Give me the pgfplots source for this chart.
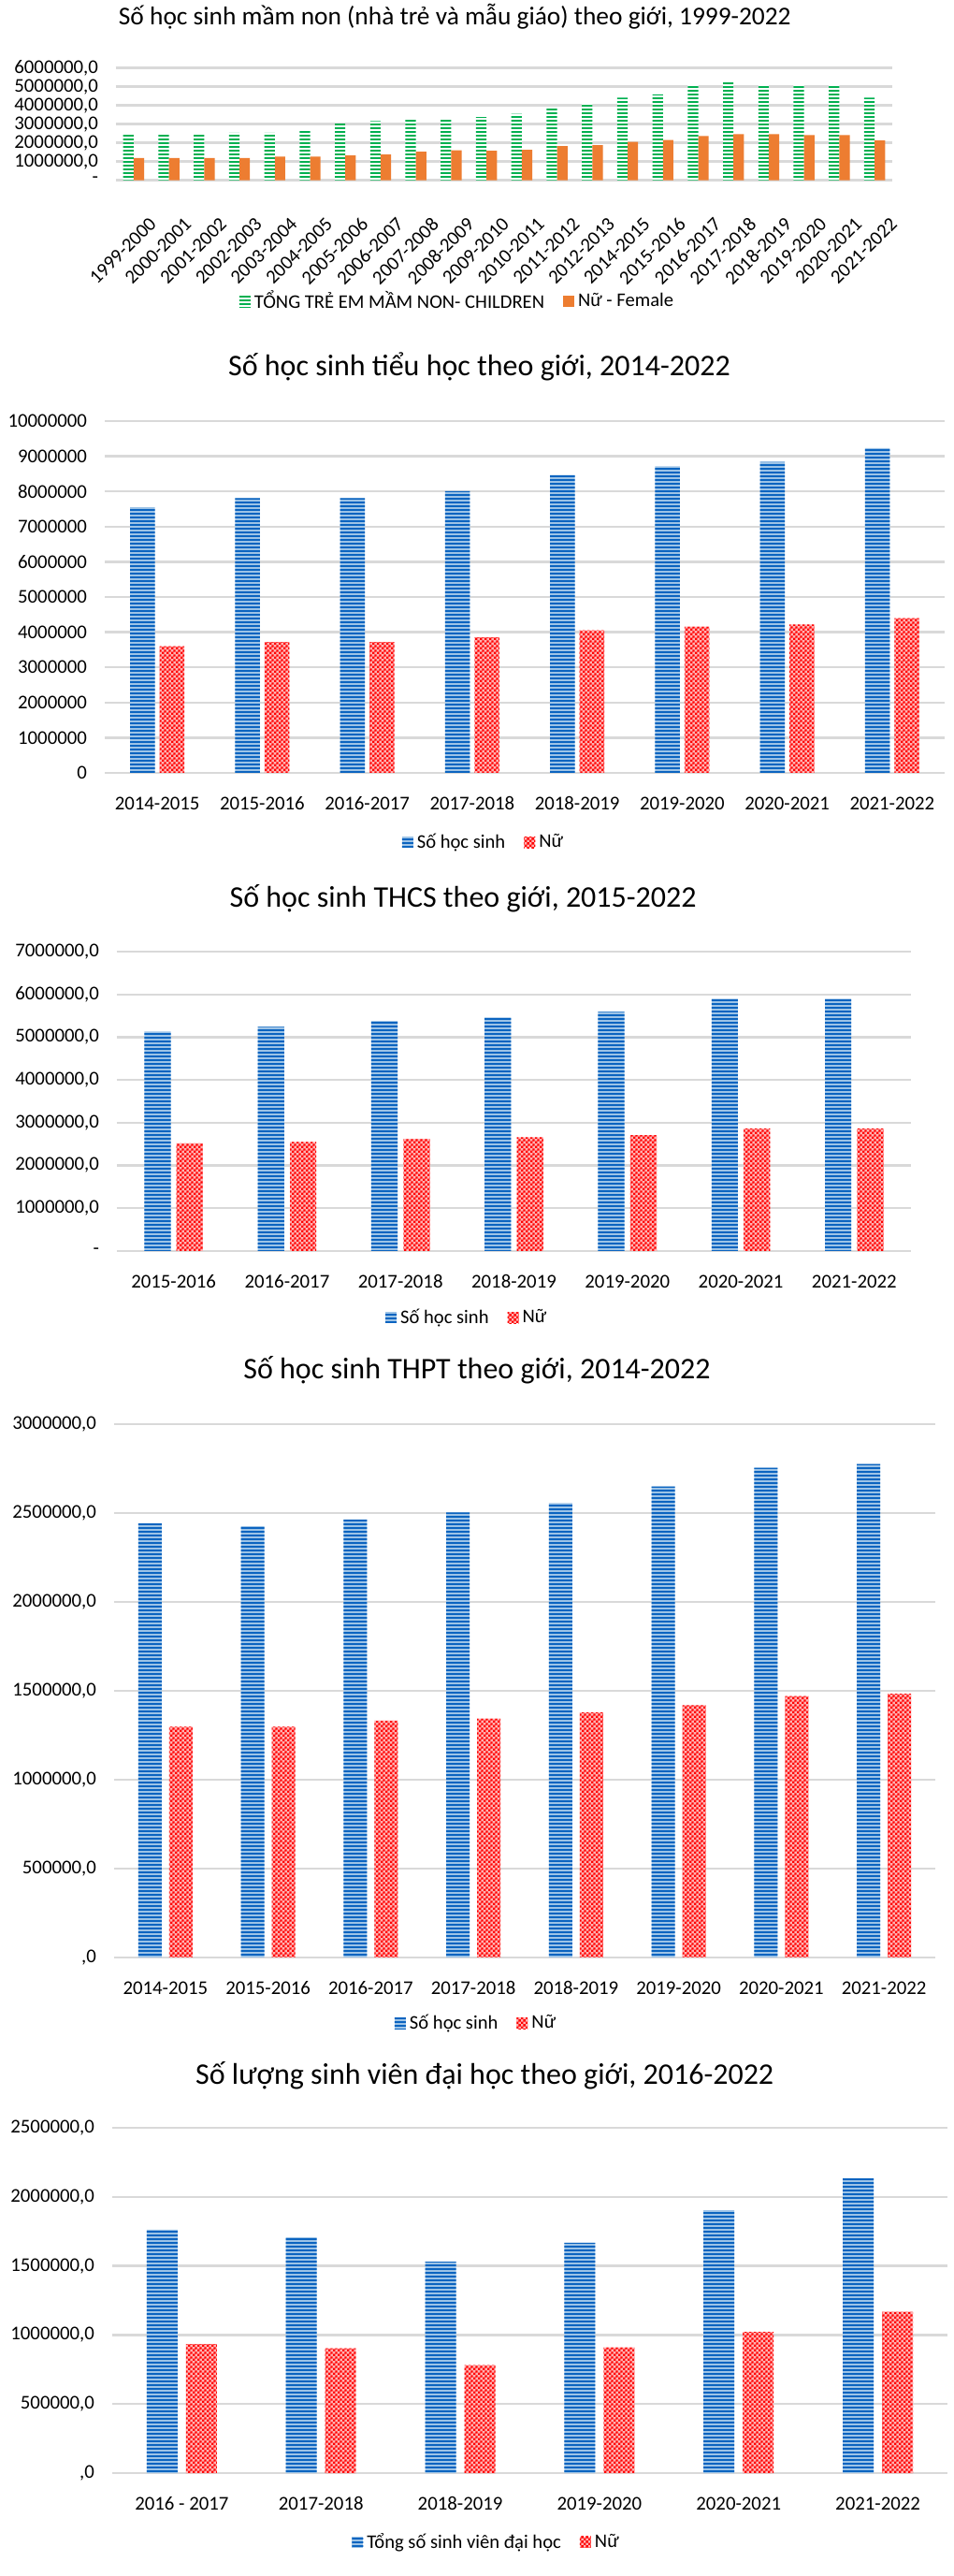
\documentclass[border=0pt]{standalone}
\usepackage{fontspec}
\setmainfont{Carlito}
\usepackage{pgfplots}
\pgfplotsset{compat=1.18}
\usetikzlibrary{patterns,patterns.meta}

\pgfdeclarepatternformonly{checker}{\pgfpointorigin}{\pgfpoint{2.4pt}{2.4pt}}{\pgfpoint{2.4pt}{2.4pt}}{%
 \pgfpathrectangle{\pgfpointorigin}{\pgfpoint{1.2pt}{1.2pt}}%
 \pgfpathrectangle{\pgfpoint{1.2pt}{1.2pt}}{\pgfpoint{1.2pt}{1.2pt}}%
 \pgfusepath{fill}}

\definecolor{gridc}{HTML}{D9D9D9}
\definecolor{greenB}{HTML}{00B050}
\definecolor{orangeB}{HTML}{ED7D31}
\definecolor{blueD}{HTML}{0B64C0}
\definecolor{blueL}{HTML}{9DC3E6}
\definecolor{redB}{HTML}{FF0000}

\newcommand{\tickfont}{\fontsize{10.4}{12}\selectfont}
\newcommand{\legfont}{\fontsize{10.3}{12}\selectfont}

\pgfplotsset{
 base/.style={scale only axis, ybar, ymajorgrids,
   major grid style={draw=gridc, line width=1.2pt},
   axis line style={draw=none}, tick style={draw=none},
   ymin=0, enlarge y limits=false, enlarge x limits=false, scaled y ticks=false,
   ticklabel style={font=\tickfont, text=black},
   yticklabel style={xshift=-6pt},
   xticklabel style={yshift=-5pt},
   title style={font=\fontsize{16}{19}\selectfont, anchor=center},
   legend style={draw=none, fill=none, legend columns=2, font=\legfont, anchor=center,
     /tikz/every even column/.append style={column sep=8pt}},
   legend cell align=left},
 legimg/.style={legend image code/.code={\path[##1] (0pt,-3pt) rectangle (6pt,3pt);}},
 bluebar/.style={fill=blueL, draw=none, postaction={pattern={Lines[angle=0,distance=2pt,line width=1pt]}, pattern color=blueD}, legimg},
 redbar/.style={fill=redB!30, draw=none, postaction={pattern=checker, pattern color=redB}, legimg},
 greenbar/.style={fill=white, draw=none, postaction={pattern={Lines[angle=0,distance=2pt,line width=1.2pt]}, pattern color=greenB}, legimg},
 orangebar/.style={fill=orangeB, draw=none, legimg},
}

\pgfplotstableread{
x total female
0 2500000 1190000
1 2500000 1190000
2 2500000 1190000
3 2540000 1190000
4 2540000 1260000
5 2710000 1260000
6 3040000 1330000
7 3160000 1380000
8 3230000 1530000
9 3280000 1600000
10 3380000 1580000
11 3550000 1630000
12 3870000 1830000
13 4100000 1880000
14 4420000 2050000
15 4590000 2150000
16 5090000 2370000
17 5290000 2470000
18 5090000 2470000
19 5090000 2420000
20 5090000 2420000
21 4420000 2130000
}\mamnon

\pgfplotstableread{
x total female
0 7550000 3600000
1 7810000 3720000
2 7810000 3720000
3 8010000 3850000
4 8470000 4050000
5 8710000 4160000
6 8840000 4220000
7 9230000 4400000
}\tieuhoc

\pgfplotstableread{
x total female
0 5130000 2520000
1 5240000 2550000
2 5380000 2620000
3 5460000 2660000
4 5590000 2710000
5 5900000 2860000
6 5900000 2860000
}\thcs

\pgfplotstableread{
x total female
0 2442000 1298000
1 2425000 1298000
2 2464000 1332000
3 2503000 1344000
4 2556000 1378000
5 2649000 1419000
6 2755000 1470000
7 2775000 1484000
}\thpt

\pgfplotstableread{
x total female
0 1763000 934000
1 1707000 903000
2 1531000 781000
3 1668000 911000
4 1903000 1023000
5 2135000 1168000
}\daihoc

\begin{document}
\begin{tikzpicture}
\path[use as bounding box, fill=white] (0pt,0pt) rectangle (510pt,1376.5pt);

% Panel 1
\begin{axis}[base, at={(62pt,1280.15pt)}, anchor=south west, width=415pt, height=60pt,
  ymax=6000000, ytick={0,1000000,2000000,3000000,4000000,5000000,6000000},
  yticklabels={{-},{1000000,0},{2000000,0},{3000000,0},{4000000,0},{5000000,0},{6000000,0}},
  xmin=-0.5, xmax=21.5, xtick={0,...,21},
  xticklabels={1999-2000,2000-2001,2001-2002,2002-2003,2003-2004,2004-2005,2005-2006,2006-2007,2007-2008,2008-2009,2009-2010,2010-2011,2011-2012,2012-2013,2014-2015,2015-2016,2016-2017,2017-2018,2018-2019,2019-2020,2020-2021,2021-2022},
  xticklabel style={rotate=45, anchor=north east, yshift=-9pt, xshift=2pt},
  title={Số học sinh mầm non (nhà trẻ và mẫu giáo) theo giới, 1999-2022},
  title style={at={(-0.005,1.356)}, anchor=west, font=\fontsize{13.7}{16}\selectfont},
  legend style={at={(0.441,-1.078)}},
  bar width=5.6pt]
\addplot[greenbar, bar shift=-2.8pt] table[x=x,y=total] {\mamnon};
\addplot[orangebar, bar shift=2.8pt] table[x=x,y=female] {\mamnon};
\legend{TỔNG TRẺ EM MẦM NON- CHILDREN, Nữ - Female}
\end{axis}

% Panel 2
\begin{axis}[base, at={(56pt,963.5pt)}, anchor=south west, width=449pt, height=188pt,
  ymax=10000000, ytick={0,1000000,...,10000000},
  yticklabels={0,1000000,2000000,3000000,4000000,5000000,6000000,7000000,8000000,9000000,10000000},
  xmin=-0.5, xmax=7.5, xtick={0,...,7},
  xticklabels={2014-2015,2015-2016,2016-2017,2017-2018,2018-2019,2019-2020,2020-2021,2021-2022},
  title={Số học sinh tiểu học theo giới, 2014-2022},
  title style={at={(0.446,1.122)}},
  legend style={at={(0.452,-0.197)}},
  bar width=13.2pt]
\addplot[bluebar, bar shift=-7.9pt] table[x=x,y=total] {\tieuhoc};
\addplot[redbar, bar shift=7.9pt] table[x=x,y=female] {\tieuhoc};
\legend{Số học sinh, Nữ}
\end{axis}

% Panel 3
\begin{axis}[base, at={(62.5pt,708pt)}, anchor=south west, width=424.5pt, height=160pt,
  ymax=7000000, ytick={0,1000000,...,7000000},
  yticklabels={{-},{1000000,0},{2000000,0},{3000000,0},{4000000,0},{5000000,0},{6000000,0},{7000000,0}},
  xmin=-0.5, xmax=6.5, xtick={0,...,6},
  xticklabels={2015-2016,2016-2017,2017-2018,2018-2019,2019-2020,2020-2021,2021-2022},
  title={Số học sinh THCS theo giới, 2015-2022},
  title style={at={(0.436,1.141)}},
  legend style={at={(0.442,-0.222)}},
  bar width=14.1pt]
\addplot[bluebar, bar shift=-8.6pt] table[x=x,y=total] {\thcs};
\addplot[redbar, bar shift=8.6pt] table[x=x,y=female] {\thcs};
\legend{Số học sinh, Nữ}
\end{axis}

% Panel 4
\begin{axis}[base, at={(61pt,330.5pt)}, anchor=south west, width=439pt, height=285pt,
  ymax=3000000, ytick={0,500000,...,3000000},
  yticklabels={{,0},{500000,0},{1000000,0},{1500000,0},{2000000,0},{2500000,0},{3000000,0}},
  xmin=-0.5, xmax=7.5, xtick={0,...,7},
  xticklabels={2014-2015,2015-2016,2016-2017,2017-2018,2018-2019,2019-2020,2020-2021,2021-2022},
  title={Số học sinh THPT theo giới, 2014-2022},
  title style={at={(0.442,1.081)}},
  legend style={at={(0.442,-0.123)}},
  bar width=12.5pt]
\addplot[bluebar, bar shift=-8.2pt] table[x=x,y=total] {\thpt};
\addplot[redbar, bar shift=8.2pt] table[x=x,y=female] {\thpt};
\legend{Số học sinh, Nữ}
\end{axis}

% Panel 5
\begin{axis}[base, at={(60pt,55pt)}, anchor=south west, width=446.5pt, height=184.5pt,
  ymax=2500000, ytick={0,500000,...,2500000},
  yticklabels={{,0},{500000,0},{1000000,0},{1500000,0},{2000000,0},{2500000,0}},
  xmin=-0.5, xmax=5.5, xtick={0,...,5},
  xticklabels={2016 - 2017,2017-2018,2018-2019,2019-2020,2020-2021,2021-2022},
  title={Số lượng sinh viên đại học theo giới, 2016-2022},
  title style={at={(0.446,1.119)}},
  legend style={at={(0.449,-0.2005)}},
  bar width=16.5pt]
\addplot[bluebar, bar shift=-10.5pt] table[x=x,y=total] {\daihoc};
\addplot[redbar, bar shift=10.5pt] table[x=x,y=female] {\daihoc};
\legend{Tổng số sinh viên đại học, Nữ}
\end{axis}
\end{tikzpicture}
\end{document}
